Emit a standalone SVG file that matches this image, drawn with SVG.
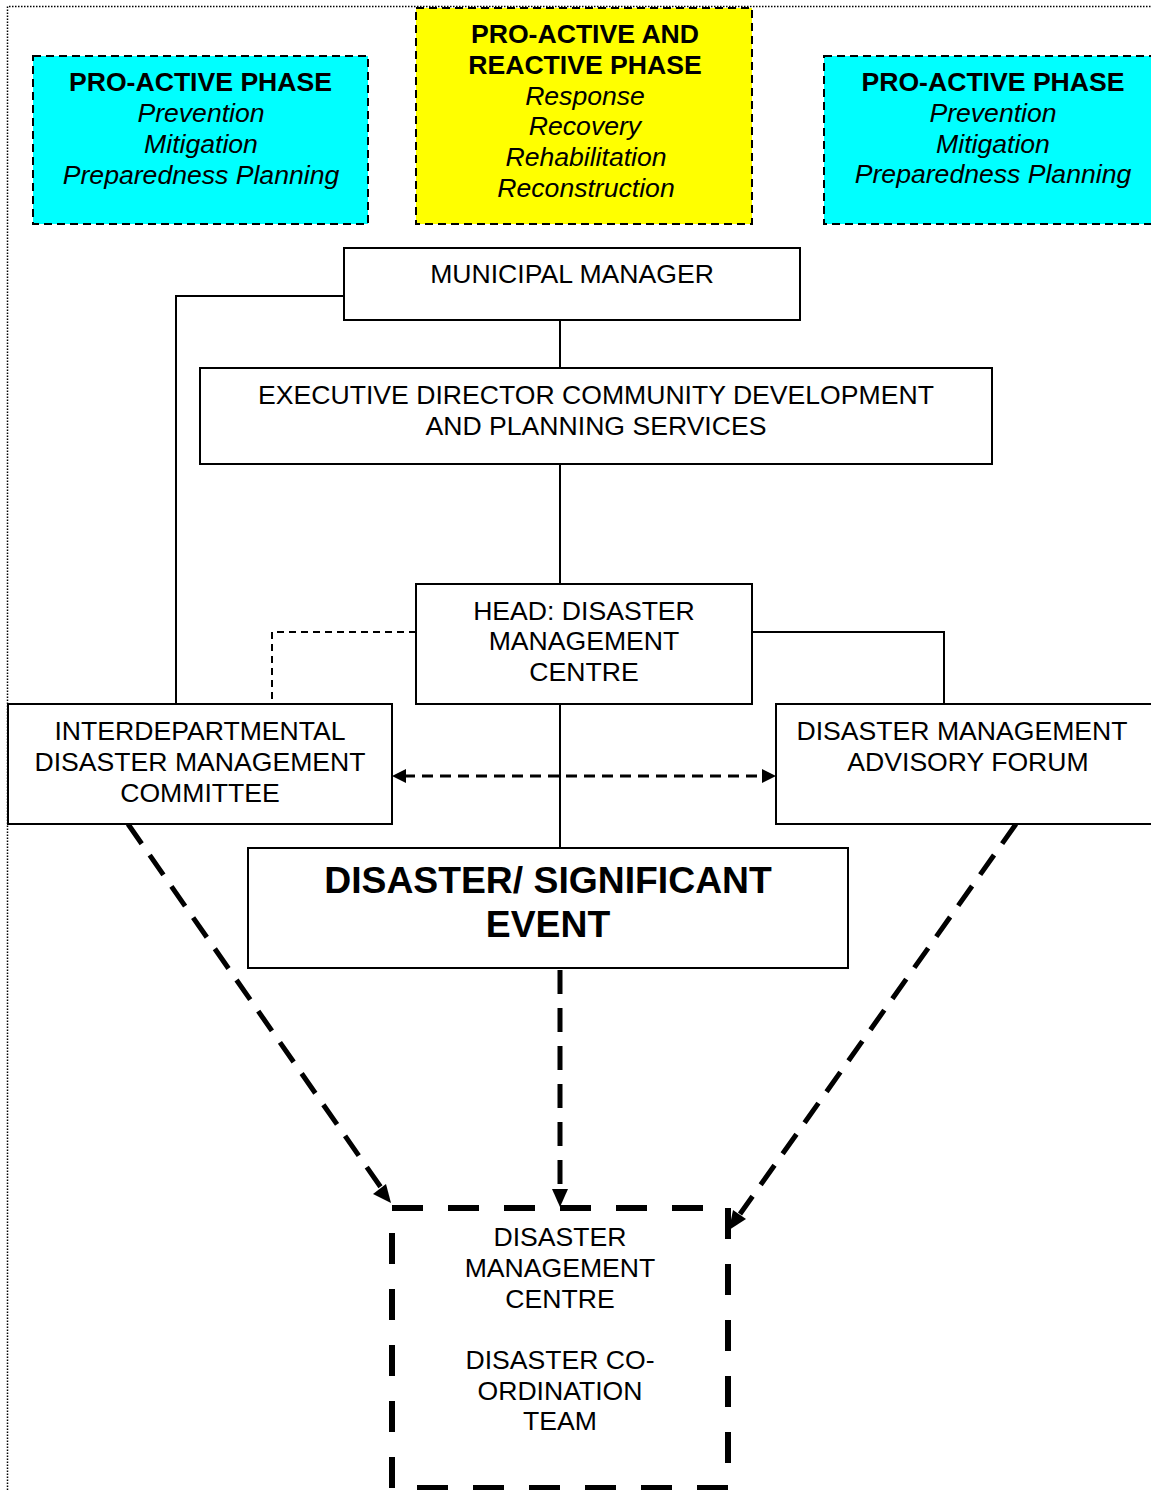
<svg xmlns="http://www.w3.org/2000/svg" width="1151" height="1490" viewBox="0 0 1151 1490">
<style>
text{font-family:"Liberation Sans",Arial,sans-serif;font-size:26.6px;fill:#000;text-anchor:middle}
.b{font-weight:bold}
.i{font-style:italic}
.big{font-size:37.3px;font-weight:bold}
.box{fill:#fff;stroke:#000;stroke-width:2}
.phase{stroke:#000;stroke-width:2;stroke-dasharray:8 5}
.ln{fill:none;stroke:#000;stroke-width:2}
.dl{fill:none;stroke:#000;stroke-width:2;stroke-dasharray:7 5}
.da{fill:none;stroke:#000;stroke-width:3;stroke-dasharray:11 7}
.thick{fill:none;stroke:#000;stroke-width:5;stroke-dasharray:24 14}
.head{fill:#000}
</style>
<rect width="1151" height="1490" fill="#fff"/>
<path d="M7.5,1490 V6.5 H1151" fill="none" stroke="#000" stroke-width="1.5" stroke-dasharray="1.5 1.5"/>

<g id="connectors">
<path class="ln" d="M560,320 V368"/>
<path class="ln" d="M560,464 V584"/>
<path class="ln" d="M344,296 H176 V704"/>
<path class="dl" d="M416,632 H272 V704"/>
<path class="ln" d="M752,632 H944 V704"/>
<path class="ln" d="M560,704 V848"/>
<path class="da" d="M404,776 H764"/>
<path class="head" d="M392,776 l14,-7 v14 z M776,776 l-14,-7 v14 z"/>
<path class="thick" d="M560,970 V1190"/>
<path class="head" d="M560,1207 l-8,-18 h16 z"/>
<path class="thick" d="M128,824 L382,1189"/>
<path class="head" d="M391,1203 l-18,-9 l13,-10 z"/>
<path class="thick" d="M1016,824 L740,1214"/>
<path class="head" d="M729,1230 l4,-20 l13,9 z"/>
</g>

<g id="phase-left">
<rect class="phase" x="33" y="56" width="335" height="168" fill="#00ffff"/>
<text class="b" x="200.5" y="91">PRO-ACTIVE PHASE</text>
<text class="i" x="201" y="122">Prevention</text>
<text class="i" x="201" y="153">Mitigation</text>
<text class="i" x="201" y="184">Preparedness Planning</text>
</g>

<g id="phase-middle">
<rect class="phase" x="416" y="8" width="336" height="216" fill="#ffff00"/>
<text class="b" x="585" y="43">PRO-ACTIVE AND</text>
<text class="b" x="585" y="74">REACTIVE PHASE</text>
<text class="i" x="585" y="105">Response</text>
<text class="i" x="585" y="135">Recovery</text>
<text class="i" x="586" y="166">Rehabilitation</text>
<text class="i" x="586" y="197">Reconstruction</text>
</g>

<g id="phase-right">
<rect class="phase" x="824" y="56" width="340" height="168" fill="#00ffff"/>
<text class="b" x="993" y="91">PRO-ACTIVE PHASE</text>
<text class="i" x="993" y="122">Prevention</text>
<text class="i" x="993" y="153">Mitigation</text>
<text class="i" x="993" y="183">Preparedness Planning</text>
</g>

<g id="municipal-manager">
<rect class="box" x="344" y="248" width="456" height="72"/>
<text x="572" y="283">MUNICIPAL MANAGER</text>
</g>

<g id="executive-director">
<rect class="box" x="200" y="368" width="792" height="96"/>
<text x="596" y="404">EXECUTIVE DIRECTOR COMMUNITY DEVELOPMENT</text>
<text x="596" y="435">AND PLANNING SERVICES</text>
</g>

<g id="head-dmc">
<rect class="box" x="416" y="584" width="336" height="120"/>
<text x="584" y="620">HEAD: DISASTER</text>
<text x="584" y="650">MANAGEMENT</text>
<text x="584" y="681">CENTRE</text>
</g>

<g id="idmc">
<rect class="box" x="8" y="704" width="384" height="120"/>
<text x="200" y="740">INTERDEPARTMENTAL</text>
<text x="200" y="771">DISASTER MANAGEMENT</text>
<text x="200" y="802">COMMITTEE</text>
</g>

<g id="dmaf">
<rect class="box" x="776" y="704" width="390" height="120"/>
<text x="962" y="740">DISASTER MANAGEMENT</text>
<text x="968" y="771">ADVISORY FORUM</text>
</g>

<g id="disaster-event">
<rect class="box" x="248" y="848" width="600" height="120"/>
<text class="big" x="548" y="893">DISASTER/ SIGNIFICANT</text>
<text class="big" x="548" y="937">EVENT</text>
</g>

<g id="dmc-team">
<rect x="392" y="1208" width="336" height="280" fill="#fff" stroke="#000" stroke-width="6" stroke-dasharray="31 25"/>
<text x="560" y="1246">DISASTER</text>
<text x="560" y="1277">MANAGEMENT</text>
<text x="560" y="1308">CENTRE</text>
<text x="560" y="1369">DISASTER CO-</text>
<text x="560" y="1400">ORDINATION</text>
<text x="560" y="1430">TEAM</text>
</g>
</svg>
